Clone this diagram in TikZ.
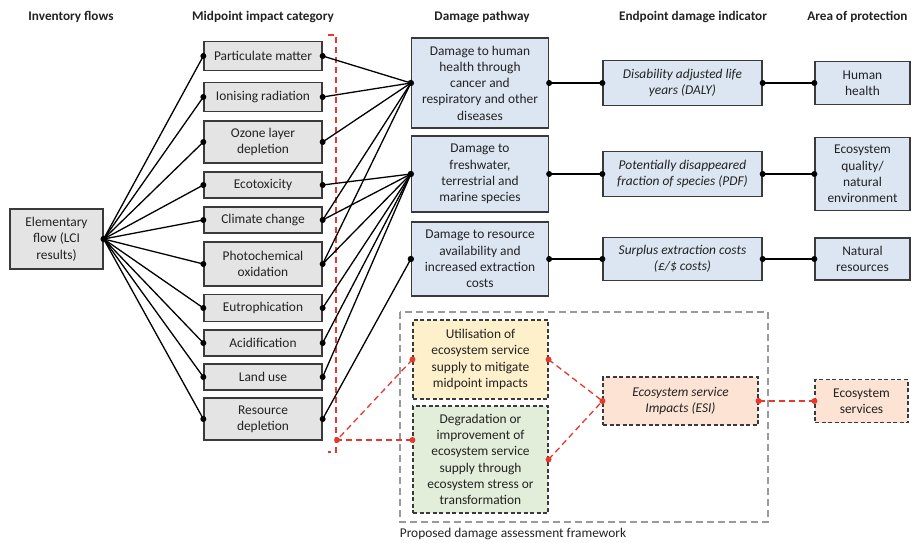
\documentclass[tikz,border=0pt]{standalone}
\usepackage{fontspec}
\setmainfont{Carlito}
\usetikzlibrary{calc}
\definecolor{boxgray}{HTML}{E4E4E4}
\definecolor{boxblue}{HTML}{DCE6F3}
\definecolor{boxyellow}{HTML}{FFF0CC}
\definecolor{boxgreen}{HTML}{E3EEDA}
\definecolor{boxpeach}{HTML}{FCE3D3}
\definecolor{redline}{HTML}{E8372C}
\definecolor{framegray}{HTML}{9A9A9A}
\definecolor{edge}{HTML}{3A3A3A}
\definecolor{ink}{HTML}{222222}
\tikzset{
  txt/.style={font=\fontsize{13.4}{16.3}\selectfont, align=center, text=ink},
  hdr/.style={font=\fontsize{13.2}{15}\selectfont\bfseries, anchor=base, text=ink},
  basebox/.style={txt, draw=edge, line width=1.3pt, inner sep=1pt},
  midbox/.style={basebox, fill=boxgray, minimum width=118pt},
  bluebox/.style={basebox, fill=boxblue},
  endbox/.style={bluebox, font=\fontsize{13.4}{16.3}\selectfont\itshape},
  essbox/.style={txt, draw=edge, line width=1.1pt, dash pattern=on 4pt off 2.5pt, inner sep=1pt},
  link/.style={draw=black, line width=1.3pt},
  redlink/.style={draw=redline, line width=1.3pt, dash pattern=on 6pt off 4pt},
  bdot/.style={fill=black},
  rdot/.style={fill=redline},
}
\begin{document}
\begin{tikzpicture}[x=1pt,y=-1pt]
\useasboundingbox (0,0) rectangle (913,543);
% headers
\node[hdr] (h1) at (71,21) {Inventory flows};
\node[hdr] (h2) at (263,21) {Midpoint impact category};
\node[hdr] (h3) at (482,21) {Damage pathway};
\node[hdr] (h4) at (693,21) {Endpoint damage indicator};
\node[hdr, anchor=base east] (h5) at (911,21) {Area of protection};

% elementary flow
\node[basebox, fill=boxgray, minimum width=93pt, minimum height=60pt] (ef) at (56.5,239) {Elementary\\flow (LCI\\results)};

% midpoint boxes
\node[midbox, minimum height=29pt] (m1) at (263,56) {Particulate matter};
\node[midbox, minimum height=29pt] (m2) at (263,97) {Ionising radiation};
\node[midbox, minimum height=42pt] (m3) at (263,142) {Ozone layer\\depletion};
\node[midbox, minimum height=26pt] (m4) at (263,185) {Ecotoxicity};
\node[midbox, minimum height=26pt] (m5) at (263,220) {Climate change};
\node[midbox, minimum height=44pt] (m6) at (263,264) {Photochemical\\oxidation};
\node[midbox, minimum height=27pt] (m7) at (263,308) {Eutrophication};
\node[midbox, minimum height=26pt] (m8) at (263,343) {Acidification};
\node[midbox, minimum height=26pt] (m9) at (263,377) {Land use};
\node[midbox, minimum height=42pt] (m10) at (263,419) {Resource\\depletion};

% damage pathway
\node[bluebox, minimum width=137pt, minimum height=90pt] (d1) at (480,83) {Damage to human\\health through\\cancer and\\respiratory and other\\diseases};
\node[bluebox, minimum width=137pt, minimum height=76pt] (d2) at (480,174) {Damage to\\freshwater,\\terrestrial and\\marine species};
\node[bluebox, minimum width=137pt, minimum height=74pt] (d3) at (480,259) {Damage to resource\\availability and\\increased extraction\\costs};

% endpoint
\node[endbox, minimum width=159pt, minimum height=45pt] (e1) at (682.5,83) {Disability adjusted life\\years (DALY)};
\node[endbox, minimum width=159pt, minimum height=45pt] (e2) at (682.5,174) {Potentially disappeared\\fraction of species (PDF)};
\node[endbox, minimum width=159pt, minimum height=43pt] (e3) at (682.5,259) {Surplus extraction costs\\(£/\$ costs)};

% area of protection
\node[bluebox, minimum width=95pt, minimum height=43pt] (a1) at (862.5,83) {Human\\health};
\node[bluebox, minimum width=95pt, minimum height=73pt] (a2) at (862.5,174) {Ecosystem\\quality/\\natural\\environment};
\node[bluebox, minimum width=95pt, minimum height=42pt] (a3) at (862.5,259) {Natural\\resources};

% proposed framework
\draw[framegray, line width=1.2pt, dash pattern=on 7pt off 4pt] (400,312) rectangle (768,522);
\node[txt, anchor=base] (cap) at (513,537) {Proposed damage assessment framework};
\node[essbox, fill=boxyellow, minimum width=135pt, minimum height=79pt] (ey) at (480.5,359.5) {Utilisation of\\ecosystem service\\supply to mitigate\\midpoint impacts};
\node[essbox, fill=boxgreen, minimum width=135pt, minimum height=107pt] (eg) at (480.5,459.5) {Degradation or\\improvement of\\ecosystem service\\supply through\\ecosystem stress or\\transformation};
\node[essbox, fill=boxpeach, minimum width=155pt, minimum height=48pt, font=\fontsize{13.4}{16.3}\selectfont\itshape] (esi) at (680.5,401) {Ecosystem service\\Impacts (ESI)};
\node[essbox, fill=boxpeach, minimum width=93pt, minimum height=43pt] (es) at (861.5,401) {Ecosystem\\services};

% red bracket
\coordinate (rb1) at (328,35);
\coordinate (rb2) at (336,35);
\coordinate (rb3) at (336,452);
\coordinate (rb4) at (328,452);
\coordinate (rp) at (337,440);
\draw[redlink] (rb1) -- (rb2) -- (rb3) -- (rb4);

% left fan
\foreach \m in {m1,m2,m3,m4,m5,m6,m7,m8,m9,m10}{
  \draw[link] (ef.east) -- (\m.west);
  \fill[bdot] (\m.west) circle (3pt);
}
\fill[bdot] (ef.east) circle (3.2pt);

% midpoint to damage
\foreach \m in {m1,m2,m3,m5,m6}{
  \draw[link] (\m.east) -- (d1.west);
}
\foreach \m in {m4,m5,m6,m7,m8,m9}{
  \draw[link] (\m.east) -- (d2.west);
}
\draw[link] (m10.east) -- (d3.west);
\foreach \m in {m1,m2,m3,m4,m5,m6,m7,m8,m9,m10}{
  \fill[bdot] (\m.east) circle (3pt);
}
\foreach \n in {d1,d2,d3}{\fill[bdot] (\n.west) circle (3.2pt);}

% damage to endpoint to area
\foreach \a/\b in {d1/e1,e1/a1,d2/e2,e2/a2,d3/e3,e3/a3}{
  \draw[link] (\a.east) -- (\b.west);
  \fill[bdot] (\a.east) circle (3pt);
  \fill[bdot] (\b.west) circle (3pt);
}

% red dashed links
\draw[redlink] (ey.east) -- (esi.west);
\draw[redlink] (eg.east) -- (esi.west);
\draw[redlink] (esi.east) -- (es.west);
\draw[redlink] (ey.west) -- (rp);
\draw[redlink] (eg.west |- rp) -- (rp);
\foreach \p in {ey.east,eg.east,esi.west,esi.east,es.west,ey.west,rp}{
  \fill[rdot] (\p) circle (3pt);
}
\fill[rdot] (eg.west |- rp) circle (3pt);
\end{tikzpicture}
\end{document}
